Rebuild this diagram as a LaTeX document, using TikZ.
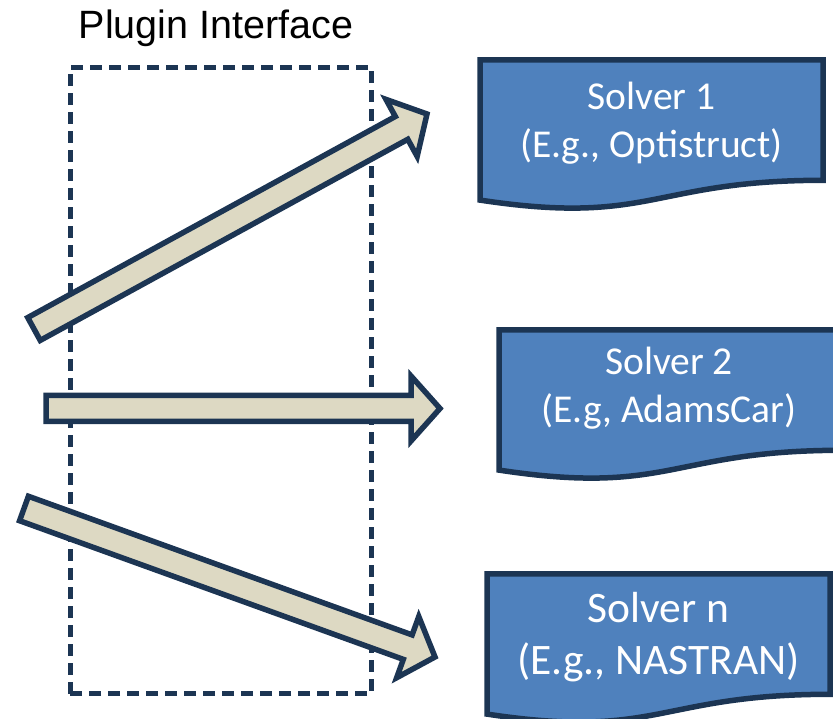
\documentclass[tikz,border=0pt]{standalone}
\usepackage{fontspec}
\setmainfont{Liberation Sans}
\newfontfamily\boxfont{Carlito}
\usepackage{tikz}
\usetikzlibrary{calc}
\usetikzlibrary{positioning}

\definecolor{navy}{HTML}{1C3553}
\definecolor{solverblue}{HTML}{4F81BD}
\definecolor{flowtan}{HTML}{DDD9C3}

\tikzset{
  solverbox/.style={draw=navy, fill=solverblue, line width=5.5pt},
  solvertext/.style={text=white, align=center, font=\boxfont\fontsize{39.5}{48}\selectfont},
  flowarrow/.style={draw=navy, fill=flowtan, line width=5.5pt, line join=miter},
  ifacebox/.style={draw=navy, line width=5pt, dash pattern=on 12pt off 7pt}
}

% document shape: left, top, width, height (top measured downwards)
\newcommand{\solverdoc}[4]{%
  \draw[solverbox] (#1,719-#2) -- (#1+#3,719-#2) -- (#1+#3,719-#2-0.802*#4)
    .. controls (#1+0.5*#3,719-#2-0.802*#4) and (#1+0.5*#3,719-#2-1.1075*#4) ..
    (#1,719-#2-0.934*#4) -- cycle;}

% block arrow from tail #1 to tip #2, head base #3
\newcommand{\blockarrow}[3]{%
  \coordinate (#3) at ($(#2)!29pt!(#1)$);
  \draw[flowarrow] ($(#1)!13pt!90:(#2)$) -- ($(#3)!13pt!90:(#2)$)
    -- ($(#3)!32.5pt!90:(#2)$) -- (#2) -- ($(#3)!32.5pt!-90:(#2)$)
    -- ($(#3)!13pt!-90:(#2)$) -- ($(#1)!13pt!-90:(#2)$) -- cycle;}

\begin{document}
\begin{tikzpicture}[x=1pt, y=1pt]
    \clip (0,0) rectangle (833,719);

    % plugin interface
    \node[anchor=base, font=\fontsize{39.5}{47}\selectfont] (title) at (216, 680) {Plugin Interface};
    \draw[ifacebox] (70,25) rectangle (371.5,651);

    % solvers
    \solverdoc{480}{60}{343}{150}
    \solverdoc{499}{330}{343}{150}
    \solverdoc{487}{574}{343}{150}
    \node[solvertext] (solver1) at (651.5, 596) {Solver 1\\(E.g., Optistruct)};
    \node[solvertext] (solver2) at (669, 331) {Solver 2\\(E.g, AdamsCar)};
    \node[solvertext, font=\boxfont\fontsize{43.5}{52}\selectfont] (solvern) at (658.5, 82) {Solver n\\(E.g., NASTRAN)};

    % arrows
    \coordinate (t1) at (34, 390);
    \coordinate (p1) at (427, 605);
    \coordinate (t2) at (46, 310.5);
    \coordinate (p2) at (440, 310.5);
    \coordinate (t3) at (24, 210.5);
    \coordinate (p3) at (435, 62);
    \blockarrow{t1}{p1}{h1}
    \blockarrow{t2}{p2}{h2}
    \blockarrow{t3}{p3}{h3}
\end{tikzpicture}
\end{document}
